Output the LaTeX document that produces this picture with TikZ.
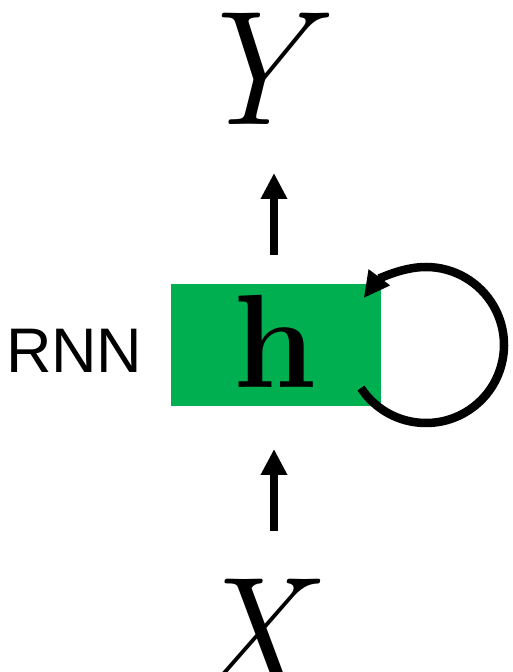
\documentclass[tikz,border=0pt]{standalone}
\usepackage{fontspec}
\newfontfamily\arialfont{Liberation Sans}
\usetikzlibrary{arrows.meta}
\definecolor{boxgreen}{HTML}{00B050}
\tikzset{
  lbl/.style={inner sep=0pt, outer sep=0pt, anchor=base},
  flow/.style={line width=8.5pt, -{Triangle[length=26pt,width=25pt]}},
}
\begin{document}
\begin{tikzpicture}[x=1pt,y=1pt]
\useasboundingbox (0,0) rectangle (512,672);
\clip (0,0) rectangle (512,672);
\node[fill=boxgreen, minimum width=210pt, minimum height=122pt, inner sep=0pt, anchor=south west] (box) at (171,266) {};
\node[lbl] (h) at (275,284) {\fontsize{133}{133}\selectfont\bfseries h};
\node[lbl] (Y) at (249,547) {\fontsize{163}{163}\selectfont\itshape Y};
\node[lbl] (X) at (248,-19) {\fontsize{163}{163}\selectfont\itshape X};
\node[lbl, anchor=base west] (rnn) at (6,299) {\fontsize{63}{63}\selectfont\arialfont RNN};
\coordinate (upS) at (274,417);
\coordinate (upE) at (274,499);
\coordinate (loS) at (274,141);
\coordinate (loE) at (274,223);
\draw[flow] (upS) -- (upE);
\draw[flow] (loS) -- (loE);
\coordinate (c) at (426,327);
\draw[flow] ([shift={(213.5:78)}]c) arc[start angle=213.5, end angle=503, radius=78];
\end{tikzpicture}
\end{document}
